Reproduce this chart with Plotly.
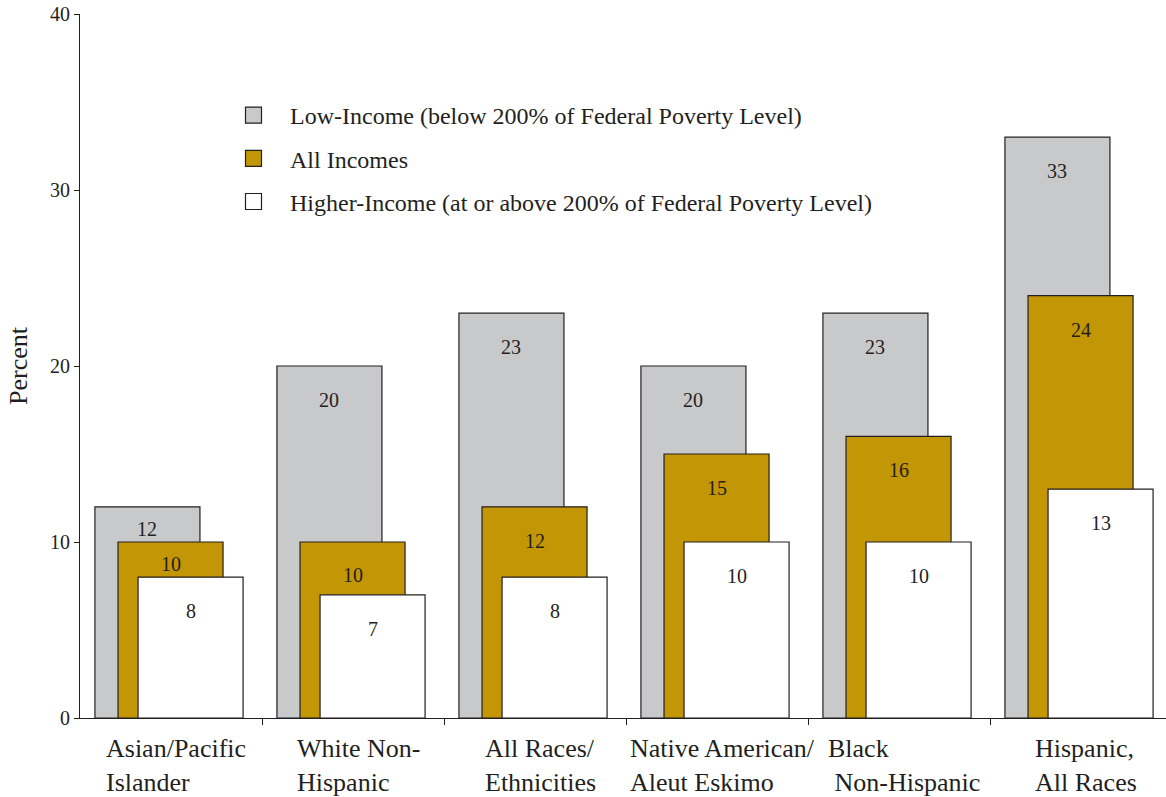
import plotly.graph_objects as go

# ---- data ----
categories = ["Asian/Pacific<br>Islander", "White Non-<br>Hispanic", "All Races/<br>Ethnicities",
              "Native American/<br>Aleut Eskimo", "Black<br>&nbsp;Non-Hispanic", "Hispanic,<br>All Races"]
low_income = [12, 20, 23, 20, 23, 33]
all_incomes = [10, 10, 12, 15, 16, 24]
higher_income = [8, 7, 8, 10, 10, 13]
series_names = ["Low-Income (below 200% of Federal Poverty Level)",
                "All Incomes",
                "Higher-Income (at or above 200% of Federal Poverty Level)"]
y_ticks = [0, 10, 20, 30, 40]

# ---- style ----
FONT = "Liberation Serif, Times New Roman, serif"
INK = "#231F20"
colors = ["#C8C9CB", "#C39605", "#FFFFFF"]
offsets = [-0.418, -0.291, -0.181]
bar_w = 0.577
PLOT_H = 704
px_per_unit = PLOT_H / 40

series = [low_income, all_incomes, higher_income]
idx = list(range(len(categories)))

fig = go.Figure()
for k, (name, vals) in enumerate(zip(series_names, series)):
    fig.add_trace(go.Bar(
        x=idx, y=vals, name=name, showlegend=False,
        width=bar_w, offset=offsets[k],
        marker=dict(color=colors[k], line=dict(color=INK, width=1.2)),
        legendgroup=f"g{k}",
    ))
# legend entries (larger square swatches)
for k, name in enumerate(series_names):
    fig.add_trace(go.Scatter(
        x=[None], y=[None], mode="markers", name=name, legendgroup=f"g{k}",
        marker=dict(symbol="square", size=24, color=colors[k], line=dict(color=INK, width=1.2)),
        hoverinfo="skip"))

annotations = []
# value labels
for k, vals in enumerate(series):
    for i, v in enumerate(vals):
        if k + 1 < len(series):
            gap_px = (v - series[k + 1][i]) * px_per_unit
            shift = min(34, 0.62 * gap_px)
        else:
            shift = 34
        annotations.append(dict(
            x=i + offsets[k] + bar_w / 2, y=v, xref="x", yref="y",
            text=str(v), showarrow=False, yanchor="middle", yshift=-shift,
            font=dict(family=FONT, size=20, color=INK)))
# category labels
for i, c in enumerate(categories):
    annotations.append(dict(
        x=i, y=0, xref="x", yref="paper", text=c, showarrow=False,
        xanchor="center", yanchor="top", align="left", xshift=5, yshift=-14,
        font=dict(family=FONT, size=26, color=INK)))

fig.update_layout(
    width=1166, height=797,
    margin=dict(l=80, r=0, t=14, b=79, autoexpand=False),
    paper_bgcolor="white", plot_bgcolor="white",
    barmode="overlay",
    font=dict(family=FONT, color=INK),
    showlegend=True,
    legend=dict(x=137 / 1086, y=1 - 79 / PLOT_H, xanchor="left", yanchor="top",
                font=dict(family=FONT, size=24, color=INK), traceorder="grouped",
                tracegroupgap=9, itemwidth=63, bgcolor="rgba(0,0,0,0)"),
    xaxis=dict(type="linear", range=[-0.5, 5.467], showline=True, linecolor=INK, linewidth=1.2,
               ticks="outside", ticklen=6, tickcolor=INK,
               tickvals=[i + 0.5 for i in idx[:-1]], showticklabels=False,
               showgrid=False, zeroline=False, automargin=False),
    yaxis=dict(range=[0, 40], tickvals=y_ticks, showline=True, linecolor=INK, linewidth=1.2,
               ticks="outside", ticklen=5, tickcolor=INK, showgrid=False, zeroline=False,
               automargin=False,
               tickfont=dict(family=FONT, size=20, color=INK),
               title=dict(text="Percent", font=dict(family=FONT, size=26, color=INK), standoff=14)),
    annotations=annotations,
)

fig.write_html("out.html", config={"displayModeBar": False},
               post_script="document.body.style.margin='0';")
